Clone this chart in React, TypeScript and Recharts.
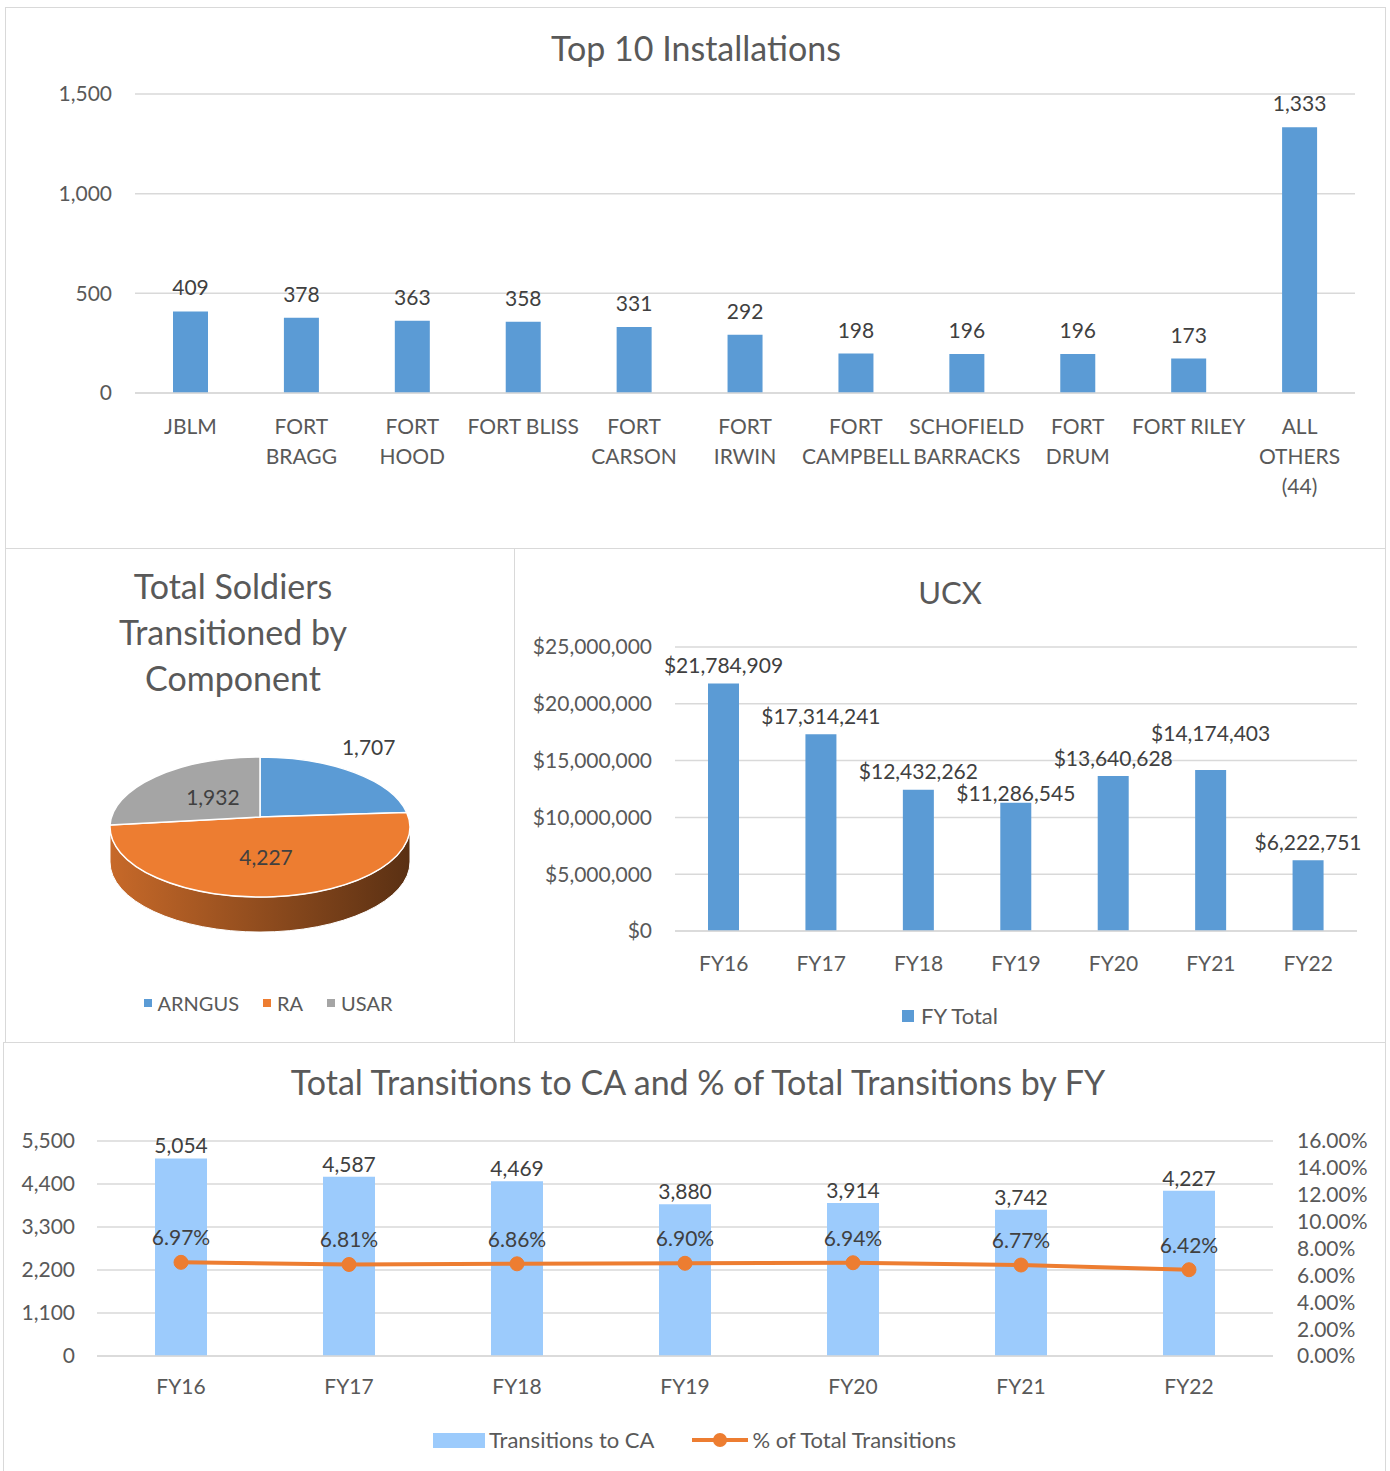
import React from 'react';
import {
    BarChart,
    Bar,
    XAxis,
    YAxis,
    CartesianGrid,
    LabelList,
    PieChart,
    Pie,
    ComposedChart,
    Line,
} from 'recharts';

const FONT = 'Lato, "Open Sans", sans-serif';
const AXIS_TEXT = '#595959';
const LABEL_TEXT = '#404040';
const GRID = '#d9d9d9';

// Top 10 installations
const installations = [
    'JBLM',
    'FORT\nBRAGG',
    'FORT\nHOOD',
    'FORT BLISS',
    'FORT\nCARSON',
    'FORT\nIRWIN',
    'FORT\nCAMPBELL',
    'SCHOFIELD\nBARRACKS',
    'FORT\nDRUM',
    'FORT RILEY',
    'ALL\nOTHERS\n(44)',
];
const installationCounts = [409, 378, 363, 358, 331, 292, 198, 196, 196, 173, 1333];
const installationTicks = [0, 500, 1000, 1500];

// Soldiers by component
const components = ['ARNGUS', 'RA', 'USAR'];
const componentCounts = [1707, 4227, 1932];
const componentColors = ['#5b9bd5', '#ed7d31', '#a5a5a5'];

// UCX
const fiscalYears = ['FY16', 'FY17', 'FY18', 'FY19', 'FY20', 'FY21', 'FY22'];
const ucxTotals = [21784909, 17314241, 12432262, 11286545, 13640628, 14174403, 6222751];
const ucxTicks = [0, 5000000, 10000000, 15000000, 20000000, 25000000];

// Transitions to CA
const transitionsToCA = [5054, 4587, 4469, 3880, 3914, 3742, 4227];
const pctOfTotal = [0.0697, 0.0681, 0.0686, 0.069, 0.0694, 0.0677, 0.0642];
const countTicks = [0, 1100, 2200, 3300, 4400, 5500];
const pctTicks = [0, 0.02, 0.04, 0.06, 0.08, 0.1, 0.12, 0.14, 0.16];

const installationData = installations.map((name, i) => ({ name, count: installationCounts[i] }));
const componentData = components.map((name, i) => ({ name, value: componentCounts[i] }));
const ucxData = fiscalYears.map((fy, i) => ({ fy, total: ucxTotals[i] }));
const transitionData = fiscalYears.map((fy, i) => ({
    fy,
    transitions: transitionsToCA[i],
    pct: pctOfTotal[i],
}));

const fmtNum = (v: number) => Number(v).toLocaleString('en-US');
const fmtDollar = (v: number) => '$' + Number(v).toLocaleString('en-US');
const fmtPct = (v: number) => (Number(v) * 100).toFixed(2) + '%';

const tickStyle = { fill: AXIS_TEXT, fontSize: 21, fontFamily: FONT };
const labelStyle = { fill: LABEL_TEXT, fontSize: 21, fontFamily: FONT };

const InstallationTick = ({ x, y, payload }: any) => {
    const lines = String(payload.value).split('\n');
    return (
        <text x={x} y={y} textAnchor="middle" fill={AXIS_TEXT} fontSize={21} fontFamily={FONT}>
            {lines.map((line, i) => (
                <tspan key={i} x={x} dy={i === 0 ? 39 : 30}>
                    {line}
                </tspan>
            ))}
        </text>
    );
};

// UCX labels are wider than a category, so neighbours get pushed apart vertically (like Excel does)
const UcxLabel = (props: any) => {
    const vb = props.viewBox && props.viewBox.height != null ? props.viewBox : props;
    const { x, y, width, height } = vb;
    const { index, value } = props;
    const perUnit = height / Number(value);
    const bottom = y + height;
    const centers: number[] = [];
    for (let j = 0; j <= index; j++) {
        const barTop = bottom - ucxTotals[j] * perUnit;
        let c = barTop - 19;
        if (j > 0 && Math.abs(c - centers[j - 1]) < 22) {
            const prev = centers[j - 1];
            if (c > prev && prev + 22 + 9 < barTop) c = prev + 22;
            else c = prev - 25;
        }
        centers.push(c);
    }
    return (
        <text
            x={x + width / 2}
            y={centers[index]}
            textAnchor="middle"
            dominantBaseline="central"
            fill={LABEL_TEXT}
            fontSize={21}
            fontFamily={FONT}
        >
            {fmtDollar(value)}
        </text>
    );
};

// fake 3D pie: squash the circle into an ellipse and add a side wall
const RAD = Math.PI / 180;
const PIE_TILT = 0.467;
const PIE_DEPTH = 35;
const APEX_LIFT = 10;
const labelOutside = [true, false, false];

const shade = (hex: string, k: number) => {
    const n = parseInt(hex.slice(1), 16);
    const r = Math.round(((n >> 16) & 255) * k);
    const g = Math.round(((n >> 8) & 255) * k);
    const b = Math.round((n & 255) * k);
    return `rgb(${r},${g},${b})`;
};

const renderSlice3D = (props: any) => {
    const { cx, cy, outerRadius, startAngle, endAngle, midAngle, index, value } = props;
    const rx = outerRadius;
    const ry = outerRadius * PIE_TILT;
    const ax = cx;
    const ay = cy - APEX_LIFT;
    const pt = (a: number, dy = 0) =>
        `${cx + rx * Math.cos(a * RAD)},${cy - ry * Math.sin(a * RAD) + dy}`;
    const hi = Math.max(startAngle, endAngle);
    const lo = Math.min(startAngle, endAngle);
    const color = componentColors[index];
    const large = hi - lo > 180 ? 1 : 0;
    const top = `M${ax},${ay} L${pt(hi)} A${rx},${ry} 0 ${large} 1 ${pt(lo)} Z`;

    // only the front half of the rim shows a wall
    const sides: string[] = [];
    for (let k = -2; k <= 1; k++) {
        const a = Math.max(lo, -180 + k * 360);
        const b = Math.min(hi, k * 360);
        if (b > a) {
            sides.push(
                `M${pt(b)} A${rx},${ry} 0 0 1 ${pt(a)} L${pt(a, PIE_DEPTH)} A${rx},${ry} 0 0 0 ${pt(b, PIE_DEPTH)} Z`
            );
        }
    }
    const gradId = `pie-side-${index}`;

    const outside = labelOutside[index];
    const ex = cx + rx * Math.cos(midAngle * RAD);
    const ey = cy - ry * Math.sin(midAngle * RAD);
    let lx: number;
    let ly: number;
    if (outside) {
        lx = cx + (ex - cx) * 1.15;
        ly = cy + (ey - cy) * 1.15 - 18;
    } else {
        lx = ax + (ex - ax) * 0.45;
        ly = ay + (ey - ay) * 0.5;
    }

    return (
        <g key={`slice-${index}`}>
            {sides.length > 0 && (
                <defs>
                    <linearGradient id={gradId} gradientUnits="userSpaceOnUse" x1={cx - rx} y1={0} x2={cx + rx} y2={0}>
                        <stop offset="0%" stopColor={shade(color, 0.84)} />
                        <stop offset="100%" stopColor={shade(color, 0.38)} />
                    </linearGradient>
                </defs>
            )}
            {sides.map((d, i) => (
                <path key={i} d={d} fill={`url(#${gradId})`} stroke="#ffffff" strokeWidth={1} />
            ))}
            <path d={top} fill={color} stroke="#ffffff" strokeWidth={1.5} />
            <text
                x={lx}
                y={ly}
                textAnchor="middle"
                dominantBaseline="central"
                fill={LABEL_TEXT}
                fontSize={21}
                fontFamily={FONT}
            >
                {fmtNum(value)}
            </text>
        </g>
    );
};

const panel = (left: number, top: number, width: number, height: number): React.CSSProperties => ({
    position: 'absolute',
    left,
    top,
    width,
    height,
    boxSizing: 'border-box',
    border: `1.5px solid ${GRID}`,
});

const title = (centerX: number, top: number, width: number, size: number): React.CSSProperties => ({
    position: 'absolute',
    left: centerX - width / 2,
    top,
    width,
    textAlign: 'center',
    fontSize: size,
    lineHeight: 1.2,
    color: AXIS_TEXT,
    fontFamily: FONT,
});

export default function App() {
    return (
        <div
            style={{
                position: 'absolute',
                left: 0,
                top: 0,
                width: 1390,
                height: 1471,
                background: '#ffffff',
                fontFamily: FONT,
                overflow: 'hidden',
            }}
        >
            {/* panels */}
            <div style={panel(5, 7, 1381, 542)} />
            <div style={panel(5, 548, 510, 495)} />
            <div style={panel(514, 548, 872, 495)} />
            <div style={{ ...panel(3, 1042, 1383, 440) }} />

            {/* Top 10 Installations */}
            <div style={title(696, 28, 800, 34)}>Top 10 Installations</div>
            <div style={{ position: 'absolute', left: 6, top: 8 }}>
                <BarChart
                    width={1380}
                    height={540}
                    data={installationData}
                    margin={{ top: 86, right: 31, bottom: 20, left: 0 }}
                >
                    <CartesianGrid vertical={false} stroke={GRID} strokeWidth={1.5} />
                    <XAxis
                        dataKey="name"
                        height={135}
                        interval={0}
                        axisLine={{ stroke: GRID, strokeWidth: 1.5 }}
                        tickLine={false}
                        tickSize={0}
                        tick={<InstallationTick />}
                    />
                    <YAxis
                        width={129}
                        domain={[0, 1500]}
                        ticks={installationTicks}
                        axisLine={false}
                        tickLine={false}
                        tickSize={0}
                        tickMargin={23}
                        tick={tickStyle}
                        tickFormatter={fmtNum}
                    />
                    <Bar dataKey="count" fill="#5b9bd5" barSize={35} isAnimationActive={false}>
                        <LabelList dataKey="count" position="top" offset={16} style={labelStyle} formatter={fmtNum} />
                    </Bar>
                </BarChart>
            </div>

            {/* Total Soldiers Transitioned by Component */}
            <div style={{ ...title(233, 563, 440, 34), lineHeight: '46px' }}>
                Total Soldiers
                <br />
                Transitioned by
                <br />
                Component
            </div>
            <div style={{ position: 'absolute', left: 6, top: 549 }}>
                <PieChart width={508} height={493} margin={{ top: 0, right: 0, bottom: 0, left: 0 }}>
                    <Pie
                        data={componentData}
                        dataKey="value"
                        nameKey="name"
                        cx={254}
                        cy={278}
                        outerRadius={150}
                        startAngle={90}
                        endAngle={-270}
                        fill="none"
                        stroke="none"
                        label={renderSlice3D}
                        labelLine={false}
                        isAnimationActive={false}
                    />
                </PieChart>
            </div>
            <div
                style={{
                    position: 'absolute',
                    left: 0,
                    top: 990,
                    width: 536,
                    display: 'flex',
                    justifyContent: 'center',
                    gap: 24,
                    fontSize: 20,
                    lineHeight: '26px',
                    color: AXIS_TEXT,
                }}
            >
                {components.map((c, i) => (
                    <div key={c} style={{ display: 'flex', alignItems: 'center' }}>
                        <span
                            style={{
                                display: 'inline-block',
                                width: 8,
                                height: 8,
                                background: componentColors[i],
                                marginRight: 6,
                            }}
                        />
                        {c}
                    </div>
                ))}
            </div>

            {/* UCX */}
            <div style={title(950, 574, 300, 31)}>UCX</div>
            <div style={{ position: 'absolute', left: 515, top: 549 }}>
                <BarChart
                    width={871}
                    height={493}
                    data={ucxData}
                    margin={{ top: 98, right: 29, bottom: 61, left: 0 }}
                >
                    <CartesianGrid vertical={false} stroke={GRID} strokeWidth={1.5} />
                    <XAxis
                        dataKey="fy"
                        height={50}
                        axisLine={{ stroke: GRID, strokeWidth: 1.5 }}
                        tickLine={false}
                        tickSize={0}
                        tickMargin={25}
                        tick={tickStyle}
                    />
                    <YAxis
                        width={160}
                        domain={[0, 25000000]}
                        ticks={ucxTicks}
                        axisLine={false}
                        tickLine={false}
                        tickSize={0}
                        tickMargin={23}
                        tick={tickStyle}
                        tickFormatter={fmtDollar}
                    />
                    <Bar dataKey="total" fill="#5b9bd5" barSize={31} isAnimationActive={false}>
                        <LabelList dataKey="total" content={<UcxLabel />} />
                    </Bar>
                </BarChart>
            </div>
            <div
                style={{
                    position: 'absolute',
                    left: 514,
                    top: 1002,
                    width: 872,
                    display: 'flex',
                    justifyContent: 'center',
                    fontSize: 22,
                    lineHeight: '28px',
                    color: AXIS_TEXT,
                }}
            >
                <div style={{ display: 'flex', alignItems: 'center' }}>
                    <span
                        style={{ display: 'inline-block', width: 12, height: 12, background: '#5b9bd5', marginRight: 7 }}
                    />
                    FY Total
                </div>
            </div>

            {/* Total Transitions to CA */}
            <div style={title(698, 1062, 1000, 34)}>Total Transitions to CA and % of Total Transitions by FY</div>
            <div style={{ position: 'absolute', left: 4, top: 1043 }}>
                <ComposedChart
                    width={1382}
                    height={428}
                    data={transitionData}
                    margin={{ top: 98, right: 0, bottom: 70, left: 0 }}
                >
                    <CartesianGrid vertical={false} stroke={GRID} strokeWidth={1.5} yAxisId="count" />
                    <XAxis
                        dataKey="fy"
                        height={45}
                        axisLine={{ stroke: GRID, strokeWidth: 1.5 }}
                        tickLine={false}
                        tickSize={0}
                        tickMargin={23}
                        tick={tickStyle}
                    />
                    <YAxis
                        yAxisId="count"
                        width={93}
                        domain={[0, 5500]}
                        ticks={countTicks}
                        interval={0}
                        axisLine={false}
                        tickLine={false}
                        tickSize={0}
                        tickMargin={22}
                        tick={tickStyle}
                        tickFormatter={fmtNum}
                    />
                    <YAxis
                        yAxisId="pct"
                        orientation="right"
                        width={113}
                        domain={[0, 0.16]}
                        ticks={pctTicks}
                        interval={0}
                        axisLine={false}
                        tickLine={false}
                        tickSize={0}
                        tickMargin={24}
                        tick={tickStyle}
                        tickFormatter={fmtPct}
                    />
                    <Bar yAxisId="count" dataKey="transitions" fill="#9ccbfc" barSize={52} isAnimationActive={false}>
                        <LabelList dataKey="transitions" position="top" offset={5} style={labelStyle} formatter={fmtNum} />
                    </Bar>
                    <Line
                        yAxisId="pct"
                        dataKey="pct"
                        stroke="#ed7d31"
                        strokeWidth={4}
                        dot={{ r: 7, fill: '#ed7d31', stroke: '#ed7d31', strokeWidth: 1 }}
                        isAnimationActive={false}
                    >
                        <LabelList dataKey="pct" position="top" offset={17} style={labelStyle} formatter={fmtPct} />
                    </Line>
                </ComposedChart>
            </div>
            <div
                style={{
                    position: 'absolute',
                    left: 3,
                    top: 1426,
                    width: 1383,
                    display: 'flex',
                    justifyContent: 'center',
                    gap: 38,
                    fontSize: 22,
                    lineHeight: '28px',
                    color: AXIS_TEXT,
                }}
            >
                <div style={{ display: 'flex', alignItems: 'center' }}>
                    <span
                        style={{ display: 'inline-block', width: 52, height: 15, background: '#9ccbfc', marginRight: 4 }}
                    />
                    Transitions to CA
                </div>
                <div style={{ display: 'flex', alignItems: 'center' }}>
                    <svg width={56} height={16} style={{ marginRight: 4 }}>
                        <line x1={0} y1={8} x2={56} y2={8} stroke="#ed7d31" strokeWidth={4} />
                        <circle cx={28} cy={8} r={7} fill="#ed7d31" />
                    </svg>
                    % of Total Transitions
                </div>
            </div>
        </div>
    );
}
